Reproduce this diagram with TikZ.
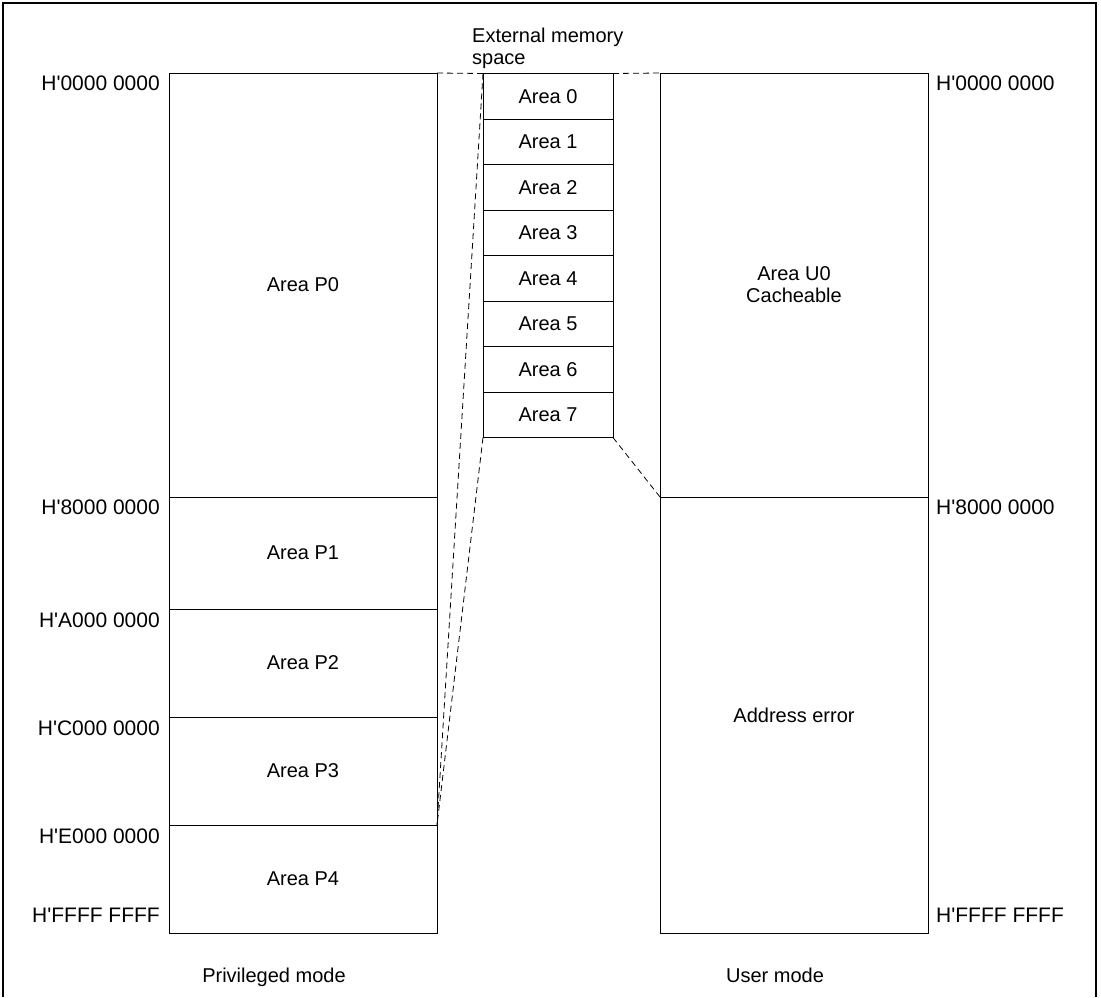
\documentclass[tikz,border=0pt]{standalone}
\usepackage{fontspec}
\setmainfont{Liberation Sans}[Ligatures=TeXOff]
\usetikzlibrary{positioning, matrix}

\begin{document}
\begin{tikzpicture}[x=1pt, y=-1pt,
    every node/.style={font=\fontsize{20}{22}\selectfont},
    region/.style={draw, line width=1pt, minimum width=268pt, outer sep=0pt, inner sep=0pt},
    addr/.style={inner sep=0pt, font=\fontsize{21}{23}\selectfont},
    link/.style={dash pattern=on 6pt off 4pt, line width=0.8pt}]
    \useasboundingbox (0,0) rectangle (1101,997);
    % frame
    \draw[line width=1.3pt] (3,997) -- (3,3) -- (1096,3) -- (1096,997);

    % Privileged mode
    \node[region, minimum height=424pt] (P0) at (303,285) {Area P0};
    \node[region, minimum height=112pt, below=0pt of P0] (P1) {Area P1};
    \node[region, minimum height=108pt, below=0pt of P1] (P2) {Area P2};
    \node[region, minimum height=108pt, below=0pt of P2] (P3) {Area P3};
    \node[region, minimum height=108pt, below=0pt of P3] (P4) {Area P4};
    \node[addr, anchor=east] (aP0) at (160,83) {H'0000 0000};
    \node[addr, anchor=east] (aP1) at (160,507) {H'8000 0000};
    \node[addr, anchor=east] (aP2) at (160,620) {H'A000 0000};
    \node[addr, anchor=east] (aP3) at (160,728) {H'C000 0000};
    \node[addr, anchor=east] (aP4) at (160,836) {H'E000 0000};
    \node[addr, anchor=east] (aPend) at (160,915) {H'FFFF FFFF};
    \node[anchor=base] (privmode) at (274,982) {Privileged mode};

    % User mode
    \node[region, minimum height=424pt, align=center] (U0) at (794,285) {Area U0\\Cacheable};
    \node[region, minimum height=436pt, below=0pt of U0] (UE) {Address error};
    \node[addr, anchor=west] (aU0) at (936,83) {H'0000 0000};
    \node[addr, anchor=west] (aUE) at (936,507) {H'8000 0000};
    \node[addr, anchor=west] (aUend) at (936,915) {H'FFFF FFFF};
    \node[anchor=base] (usermode) at (775,982) {User mode};

    % External memory space
    \matrix[matrix of nodes, nodes={draw, minimum width=130pt, minimum height=45.5pt, outer sep=0pt, anchor=center},
            line width=1pt, row sep=-\pgflinewidth, inner sep=0pt, outer sep=0pt, anchor=north] (ext) at (548,73) {
        Area 0 \\
        Area 1 \\
        Area 2 \\
        Area 3 \\
        Area 4 \\
        Area 5 \\
        Area 6 \\
        Area 7 \\
    };
    \node[anchor=south west, align=left, inner sep=0pt] (extlbl) at (472,69) {External memory\\space};

    \draw[link] (P0.north east) -- (ext-1-1.north west);
    \draw[link] (ext-1-1.north east) -- (U0.north west);
    \draw[link] (ext-8-1.south east) -- (U0.south west);
    \draw[link] (ext-1-1.north west) -- (P3.south east);
    \draw[link] (ext-8-1.south west) -- (P3.south east);
\end{tikzpicture}
\end{document}
